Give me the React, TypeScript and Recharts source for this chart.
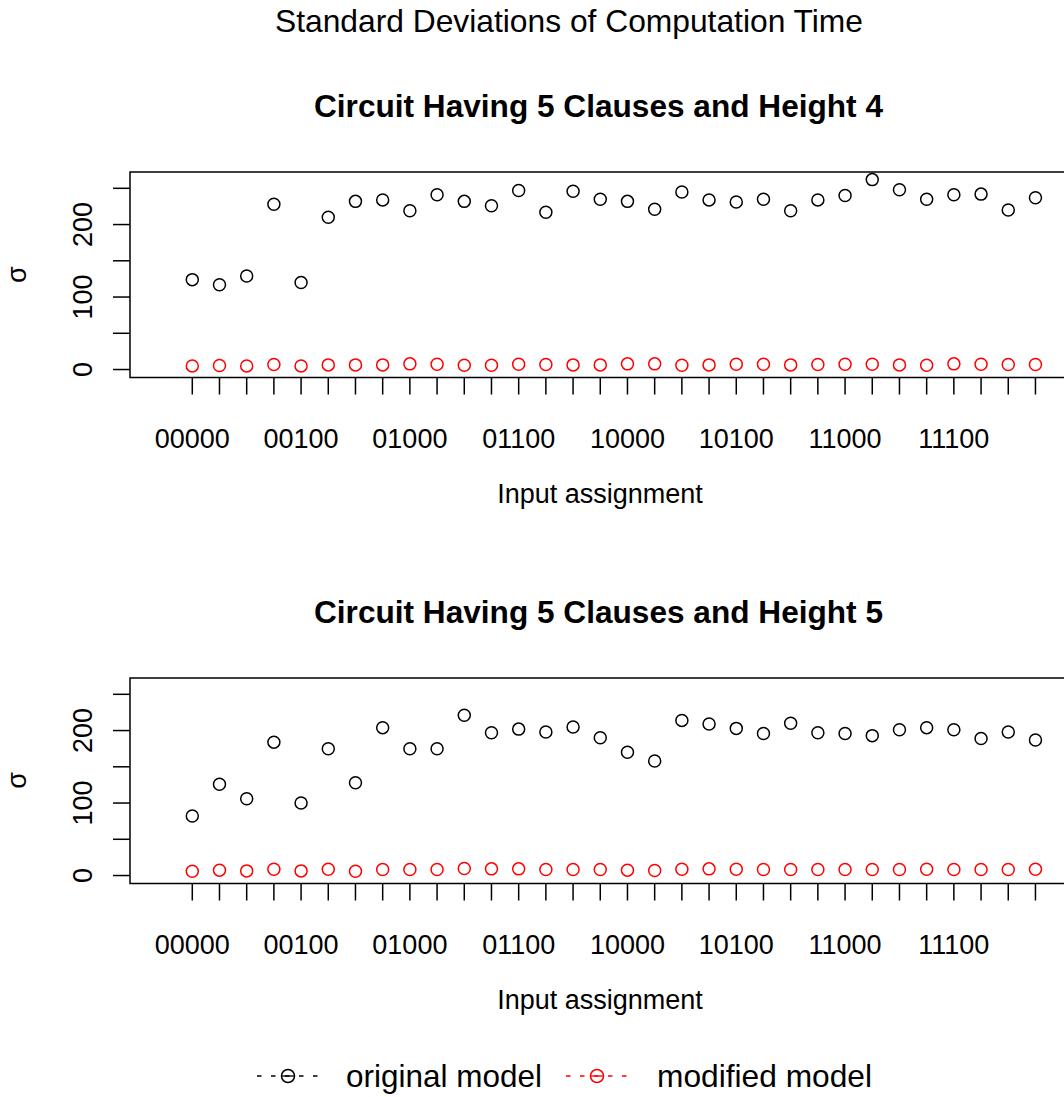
import { ScatterChart, Scatter, XAxis, YAxis, ReferenceArea } from "recharts";

// input assignments on the x axis
const inputs = [
  "00000", "00001", "00010", "00011", "00100", "00101", "00110", "00111",
  "01000", "01001", "01010", "01011", "01100", "01101", "01110", "01111",
  "10000", "10001", "10010", "10011", "10100", "10101", "10110", "10111",
  "11000", "11001", "11010", "11011", "11100", "11101", "11110", "11111",
];

// height 4 circuit
const origH4 = [
  124, 117, 129, 228, 120, 210, 232, 234, 219, 241, 232, 226, 247, 217, 246, 235,
  232, 221, 245, 234, 231, 235, 219, 234, 240, 262, 248, 235, 241, 242, 220, 237,
];
const modH4 = [
  5.0, 5.5, 5.0, 6.9, 5.0, 6.4, 6.4, 6.4, 7.8, 7.3, 6.0, 6.0, 7.3, 6.9, 6.4, 6.4,
  7.8, 7.8, 6.0, 6.4, 7.3, 7.3, 6.4, 6.9, 7.3, 7.3, 6.4, 6.0, 7.8, 7.3, 6.9, 6.9,
];

// height 5 circuit
const origH5 = [
  82, 126, 106, 184, 100, 175, 128, 204, 175, 175, 221, 197, 202, 198, 205, 190,
  170, 158, 214, 209, 203, 196, 210, 197, 196, 193, 201, 204, 201, 189, 198, 187,
];
const modH5 = [
  6.0, 7.4, 6.4, 8.7, 6.4, 8.7, 6.0, 8.3, 8.3, 8.3, 9.6, 9.2, 9.2, 8.3, 8.3, 8.3,
  7.4, 6.9, 8.7, 9.2, 8.7, 8.3, 8.3, 8.3, 8.3, 8.3, 8.3, 8.7, 8.3, 8.3, 8.3, 8.7,
];

const yTicks = [0, 50, 100, 150, 200, 250];
const xTicks = inputs.map((_, i) => i);

const FONT = '"Liberation Sans", Arial, Helvetica, sans-serif';
const X_DOMAIN: [number, number] = [-2.29, 32.27];
const Y_DOMAIN: [number, number] = [-11, 272.5];
const tickLine = { stroke: "#000", strokeWidth: 1.5 };

const toPoints = (vals: number[]) => vals.map((v, i) => ({ i, v }));

const XTick = ({ x, y, payload }: any) => {
  const i = payload.value;
  if (i % 4 !== 0) return null;
  return (
    <text x={x} y={y + 53} textAnchor="middle" fontSize={27} fontFamily={FONT} fill="#000">
      {inputs[i]}
    </text>
  );
};

const YTick = ({ y, payload }: any) => {
  if (payload.value % 100 !== 0) return null;
  return (
    <text
      transform={`translate(92,${y}) rotate(-90)`}
      textAnchor="middle"
      fontSize={27}
      fontFamily={FONT}
      fill="#000"
    >
      {payload.value}
    </text>
  );
};

const hollow = (color: string) => (props: any) =>
  <circle cx={props.cx} cy={props.cy} r={6} fill="none" stroke={color} strokeWidth={1.5} />;

function Panel({ top, orig, mod }: { top: number; orig: number[]; mod: number[] }) {
  return (
    <div style={{ position: "absolute", left: 0, top }}>
      <ScatterChart width={1080} height={377.5} margin={{ top: 32, right: 10, bottom: 0, left: 0 }}>
        <XAxis
          type="number"
          dataKey="i"
          domain={X_DOMAIN}
          ticks={xTicks}
          interval={0}
          allowDataOverflow
          height={140}
          tickSize={17}
          tickMargin={0}
          axisLine={false}
          tickLine={tickLine}
          tick={XTick}
        />
        <YAxis
          type="number"
          dataKey="v"
          domain={Y_DOMAIN}
          ticks={yTicks}
          interval={0}
          allowDataOverflow
          width={130}
          tickSize={17}
          tickMargin={0}
          axisLine={false}
          tickLine={tickLine}
          tick={YTick}
        />
        <ReferenceArea
          x1={X_DOMAIN[0]}
          x2={X_DOMAIN[1]}
          y1={Y_DOMAIN[0]}
          y2={Y_DOMAIN[1]}
          fill="none"
          stroke="#000"
          strokeWidth={1.5}
          ifOverflow="visible"
        />
        <Scatter data={toPoints(orig)} shape={hollow("#000")} isAnimationActive={false} />
        <Scatter data={toPoints(mod)} shape={hollow("#ff0000")} isAnimationActive={false} />
      </ScatterChart>
    </div>
  );
}

const LegendKey = ({ x, color }: { x: number; color: string }) => (
  <g>
    <line x1={x - 31} x2={x + 31} y1={1076} y2={1076} stroke={color} strokeWidth={1.3} strokeDasharray="4.5 9.5" />
    <line x1={x - 6.5} x2={x + 6.5} y1={1076} y2={1076} stroke={color} strokeWidth={1.3} />
    <circle cx={x} cy={1076} r={6.5} fill="none" stroke={color} strokeWidth={1.5} />
  </g>
);

export default function App() {
  const txt = { fontFamily: FONT, fill: "#000" };
  return (
    <div style={{ position: "absolute", left: 0, top: 0, width: 1064, height: 1097, overflow: "hidden", background: "#fff" }}>
      <Panel top={140} orig={origH4} mod={modH4} />
      <Panel top={646} orig={origH5} mod={modH5} />
      <svg width={1064} height={1097} style={{ position: "absolute", left: 0, top: 0, pointerEvents: "none" }}>
        <text x={275} y={32.3} fontSize={31.5} textLength={588} lengthAdjust="spacingAndGlyphs" {...txt}>
          Standard Deviations of Computation Time
        </text>
        <text x={314} y={116.7} fontSize={31.5} fontWeight="bold" textLength={569} lengthAdjust="spacingAndGlyphs" {...txt}>
          Circuit Having 5 Clauses and Height 4
        </text>
        <text x={314} y={622.7} fontSize={31.5} fontWeight="bold" textLength={569} lengthAdjust="spacingAndGlyphs" {...txt}>
          Circuit Having 5 Clauses and Height 5
        </text>
        <text x={600} y={503} fontSize={27} textAnchor="middle" {...txt}>Input assignment</text>
        <text x={600} y={1008.6} fontSize={27} textAnchor="middle" {...txt}>Input assignment</text>
        <text transform="translate(26,274.75) rotate(-90)" fontSize={27} textAnchor="middle" {...txt}>σ</text>
        <text transform="translate(26,780.5) rotate(-90)" fontSize={27} textAnchor="middle" {...txt}>σ</text>
        <LegendKey x={288} color="#000" />
        <LegendKey x={597} color="#ff0000" />
        <text x={346} y={1087} fontSize={31.5} textLength={196} lengthAdjust="spacingAndGlyphs" {...txt}>original model</text>
        <text x={657} y={1087} fontSize={31.5} textLength={215} lengthAdjust="spacingAndGlyphs" {...txt}>modified model</text>
      </svg>
    </div>
  );
}
